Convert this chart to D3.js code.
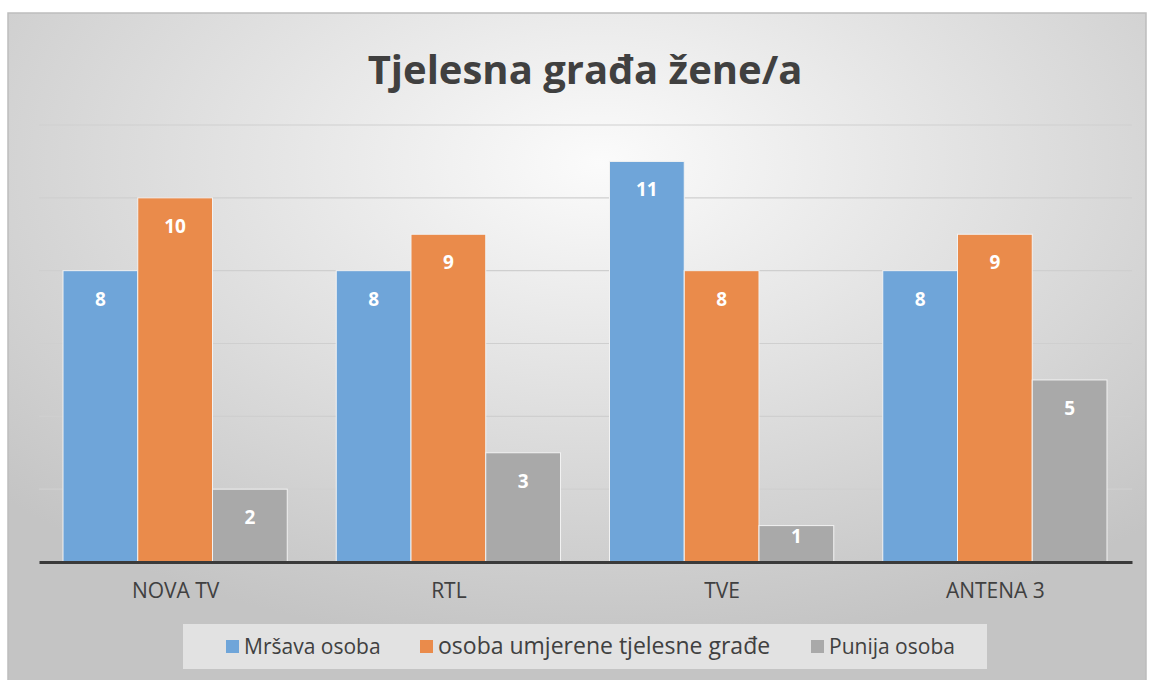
<!DOCTYPE html>
<html>
<head>
<meta charset="utf-8">
<script src="https://cdn.jsdelivr.net/npm/d3@7"></script>
<style>
  body { margin: 0; background: #fff; }
  text { font-family: "Open Sans", "Noto Sans", sans-serif; }
</style>
</head>
<body>
<div id="canvas"></div>
<script>
// data
const categories = ["NOVA TV", "RTL", "TVE", "ANTENA 3"];
const seriesNames = ["Mršava osoba", "osoba umjerene tjelesne građe", "Punija osoba"];
const mrsava = [8, 8, 11, 8];
const umjerena = [10, 9, 8, 9];
const punija = [2, 3, 1, 5];
const yTicks = [0, 2, 4, 6, 8, 10, 12];
const colors = ["#6fa5d9", "#ea8b4b", "#a9a9a9"];

const values = [mrsava, umjerena, punija];
const rows = categories.map((c, i) => ({
  cat: c,
  vals: seriesNames.map((s, j) => ({ series: s, value: values[j][i], idx: j }))
}));

const width = 1151;
const height = 680;
const plot = { left: 39, right: 1132, top: 125, bottom: 562 };

const svg = d3.select("#canvas").append("svg")
  .attr("width", width)
  .attr("height", height);

// fondo con gradiente
const defs = svg.append("defs");
const grad = defs.append("radialGradient")
  .attr("id", "bg")
  .attr("cx", "52%").attr("cy", "22%").attr("r", "72%");
grad.append("stop").attr("offset", "0%").attr("stop-color", "#fbfbfb");
grad.append("stop").attr("offset", "100%").attr("stop-color", "#c4c4c4");

svg.append("rect")
  .attr("x", 8).attr("y", 13)
  .attr("width", 1138).attr("height", 680)
  .attr("fill", "url(#bg)")
  .attr("stroke", "#bdbdbd")
  .attr("stroke-width", 1.5);

svg.append("text")
  .attr("x", 585).attr("y", 84)
  .attr("text-anchor", "middle")
  .attr("font-size", 40)
  .attr("font-weight", 700)
  .attr("fill", "#404040")
  .text("Tjelesna građa žene/a");

const x0 = d3.scaleBand()
  .domain(categories)
  .range([plot.left, plot.right]);

const x1 = d3.scaleBand()
  .domain(seriesNames)
  .range([24, x0.bandwidth() - 25]);

const y = d3.scaleLinear()
  .domain([0, 12])
  .range([plot.bottom, plot.top]);

// lineas de la cuadricula
svg.append("g")
  .selectAll("line")
  .data(yTicks.filter(d => d > 0))
  .join("line")
  .attr("x1", plot.left).attr("x2", plot.right)
  .attr("y1", d => y(d)).attr("y2", d => y(d))
  .attr("stroke", "#cfcfcf")
  .attr("stroke-width", 1.2);

const groups = svg.append("g")
  .selectAll("g")
  .data(rows)
  .join("g")
  .attr("transform", d => `translate(${x0(d.cat)},0)`);

groups.selectAll("rect")
  .data(d => d.vals)
  .join("rect")
  .attr("x", d => x1(d.series))
  .attr("y", d => y(d.value))
  .attr("width", x1.bandwidth())
  .attr("height", d => y(0) - y(d.value))
  .attr("fill", d => colors[d.idx])
  .attr("stroke", "#f2f2f2")
  .attr("stroke-width", 1);

// etiquetas dentro de la barra (si la barra es baja, se centra)
groups.selectAll("text")
  .data(d => d.vals)
  .join("text")
  .attr("x", d => x1(d.series) + x1.bandwidth() / 2)
  .attr("y", d => y(d.value) + Math.min(35, (y(0) - y(d.value)) * 0.48))
  .attr("text-anchor", "middle")
  .attr("font-size", 19)
  .attr("font-weight", 700)
  .attr("fill", "#ffffff")
  .text(d => d.value);

// eje x
const xAxis = svg.append("g")
  .attr("transform", `translate(0,${plot.bottom})`)
  .call(d3.axisBottom(x0).tickSize(0).tickPadding(21));
xAxis.select(".domain").attr("stroke", "#3a3a3a").attr("stroke-width", 3);
xAxis.selectAll("text")
  .attr("font-size", 21)
  .attr("fill", "#404040")
  .attr("font-family", "Open Sans, sans-serif");

// leyenda
svg.append("rect")
  .attr("x", 183).attr("y", 624)
  .attr("width", 804).attr("height", 45)
  .attr("fill", "#e2e2e2");

const legendX = [226, 420, 811];
const legendSize = [21, 23, 21];
const legend = svg.append("g")
  .selectAll("g")
  .data(seriesNames)
  .join("g")
  .attr("transform", (d, i) => `translate(${legendX[i]},646)`);
legend.append("rect")
  .attr("x", 0).attr("y", -6)
  .attr("width", 13).attr("height", 13)
  .attr("fill", (d, i) => colors[i]);
legend.append("text")
  .attr("x", 18).attr("y", 8)
  .attr("font-size", (d, i) => legendSize[i])
  .attr("fill", "#404040")
  .text(d => d);
</script>
</body>
</html>
